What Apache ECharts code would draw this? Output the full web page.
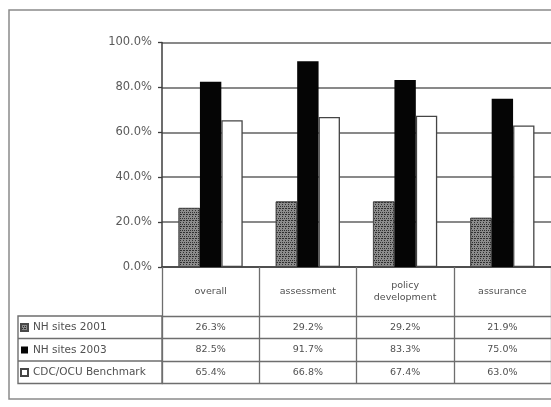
<!DOCTYPE html>
<html>
<head>
<meta charset="utf-8">
<script src="https://cdn.jsdelivr.net/npm/echarts@6/dist/echarts.min.js"></script>
<style>
  html, body { margin: 0; padding: 0; background: #fff; }
  #chart { width: 551px; height: 407px; }
</style>
</head>
<body>
<div id="chart"></div>
<script>
// Categories along the x axis (also the header row of the data table)
const categories = ['overall', 'assessment', 'policy\ndevelopment', 'assurance'];

// Series values, as fractions of 1
const seriesNames = ['NH sites 2001', 'NH sites 2003', 'CDC/OCU Benchmark'];
const nhSites2001 = [0.263, 0.292, 0.292, 0.219];
const nhSites2003 = [0.825, 0.917, 0.833, 0.750];
const benchmark   = [0.654, 0.668, 0.674, 0.630];

// Y axis ticks
const yTicks = [0, 0.2, 0.4, 0.6, 0.8, 1.0];

const seriesValues = [nhSites2001, nhSites2003, benchmark];

const fmtPct = v => (v * 100).toFixed(1) + '%';

// Layout of plot area and table rows
const G = { left: 162, top: 42.5, width: 392, height: 224.5 };
const headerRow = 49;     // height of the category-name row
const rowH = 22.5;        // height of each data row
const tableFont = 'DejaVu Sans';
const textColor = '#505050';
const ruleColor = '#6e6e6e';

const chart = echarts.init(document.getElementById('chart'), null, { renderer: 'canvas' });

// Category axis carrying the header row, then one axis per data row
const xAxes = [{
  type: 'category',
  data: categories,
  gridIndex: 0,
  position: 'bottom',
  axisLine: { show: true, lineStyle: { color: '#3c3c3c', width: 1.6 } },
  axisTick: { show: true, interval: 0, length: headerRow, lineStyle: { color: ruleColor, width: 1.3 } },
  axisLabel: {
    interval: 0, margin: headerRow / 2, verticalAlign: 'middle',
    color: textColor, fontSize: 9.5, fontFamily: tableFont, lineHeight: 12
  }
}];
seriesValues.forEach((vals, r) => {
  xAxes.push({
    type: 'category',
    data: categories,
    gridIndex: 0,
    position: 'bottom',
    offset: headerRow + r * rowH,
    axisLine: { show: true, lineStyle: { color: ruleColor, width: 1.4 } },
    axisTick: { show: true, interval: 0, length: rowH, lineStyle: { color: ruleColor, width: 1.3 } },
    axisLabel: {
      interval: 0, margin: rowH / 2, verticalAlign: 'middle',
      color: textColor, fontSize: 9.5, fontFamily: tableFont,
      formatter: (v, i) => fmtPct(vals[i])
    }
  });
});
// bottom rule of the table
xAxes.push({
  type: 'category',
  data: categories,
  gridIndex: 0,
  position: 'bottom',
  offset: headerRow + seriesValues.length * rowH,
  axisLine: { show: true, lineStyle: { color: ruleColor, width: 1.4 } },
  axisTick: { show: false },
  axisLabel: { show: false }
});

const barBase = {
  type: 'bar',
  xAxisIndex: 0,
  yAxisIndex: 0,
  barGap: '0%',
  barCategoryGap: '34%'
};

const tableTop = G.top + G.height + headerRow;
const tableBottom = tableTop + seriesValues.length * rowH;
const keyLeft = 18;

const option = {
  backgroundColor: '#fff',
  animation: false,
  grid: { left: G.left, top: G.top, width: G.width, height: G.height, containLabel: false },
  xAxis: xAxes,
  yAxis: {
    type: 'value',
    min: yTicks[0],
    max: yTicks[yTicks.length - 1],
    interval: yTicks[1] - yTicks[0],
    axisLine: { show: true, lineStyle: { color: '#3c3c3c', width: 1.5 } },
    axisTick: { show: true, length: 4, lineStyle: { color: '#3c3c3c', width: 1.3 } },
    axisLabel: {
      margin: 10, color: '#5a5a5a', fontSize: 11.5, fontFamily: tableFont,
      formatter: v => fmtPct(v)
    },
    splitLine: { show: true, lineStyle: { color: '#626262', width: 1.6 } }
  },
  legend: {
    orient: 'vertical',
    left: keyLeft + 2,
    top: tableTop + 5,
    itemWidth: 7,
    itemHeight: 7,
    itemGap: rowH - 13,
    padding: 0,
    selectedMode: false,
    icon: 'rect',
    textStyle: { color: textColor, fontSize: 10.5, fontFamily: tableFont, lineHeight: 13 },
    data: seriesNames
  },
  series: [
    Object.assign({}, barBase, {
      name: seriesNames[0],
      data: nhSites2001,
      itemStyle: {
        color: '#8c8c8c',
        borderColor: '#4a4a4a',
        borderWidth: 0.8,
        // mottled pattern fill
        decal: {
          symbol: 'rect',
          symbolSize: 1,
          color: 'rgba(25,25,25,0.8)',
          dashArrayX: [[2, 1], [1, 2], [1, 1]],
          dashArrayY: [1, 0.5],
          rotation: 0
        }
      }
    }),
    Object.assign({}, barBase, {
      name: seriesNames[1],
      data: nhSites2003,
      itemStyle: { color: '#050505' }
    }),
    Object.assign({}, barBase, {
      name: seriesNames[2],
      data: benchmark,
      itemStyle: { color: '#ffffff', borderColor: '#454545', borderWidth: 1.3 }
    })
  ],
  graphic: [
    // outer chart frame
    {
      type: 'rect', silent: true, z: 100,
      shape: { x: 9, y: 10, width: 600, height: 389 },
      style: { fill: 'none', stroke: '#8a8a8a', lineWidth: 1.5 }
    },
    // row-header block of the data table
    {
      type: 'rect', silent: true, z: 100,
      shape: { x: keyLeft, y: tableTop, width: G.left - keyLeft, height: tableBottom - tableTop },
      style: { fill: 'none', stroke: ruleColor, lineWidth: 1.4 }
    },
    ...[1, 2].map(r => ({
      type: 'line', silent: true, z: 100,
      shape: { x1: keyLeft, y1: tableTop + r * rowH, x2: G.left, y2: tableTop + r * rowH },
      style: { stroke: ruleColor, lineWidth: 1.4 }
    }))
  ]
};

chart.setOption(option);
</script>
</body>
</html>
